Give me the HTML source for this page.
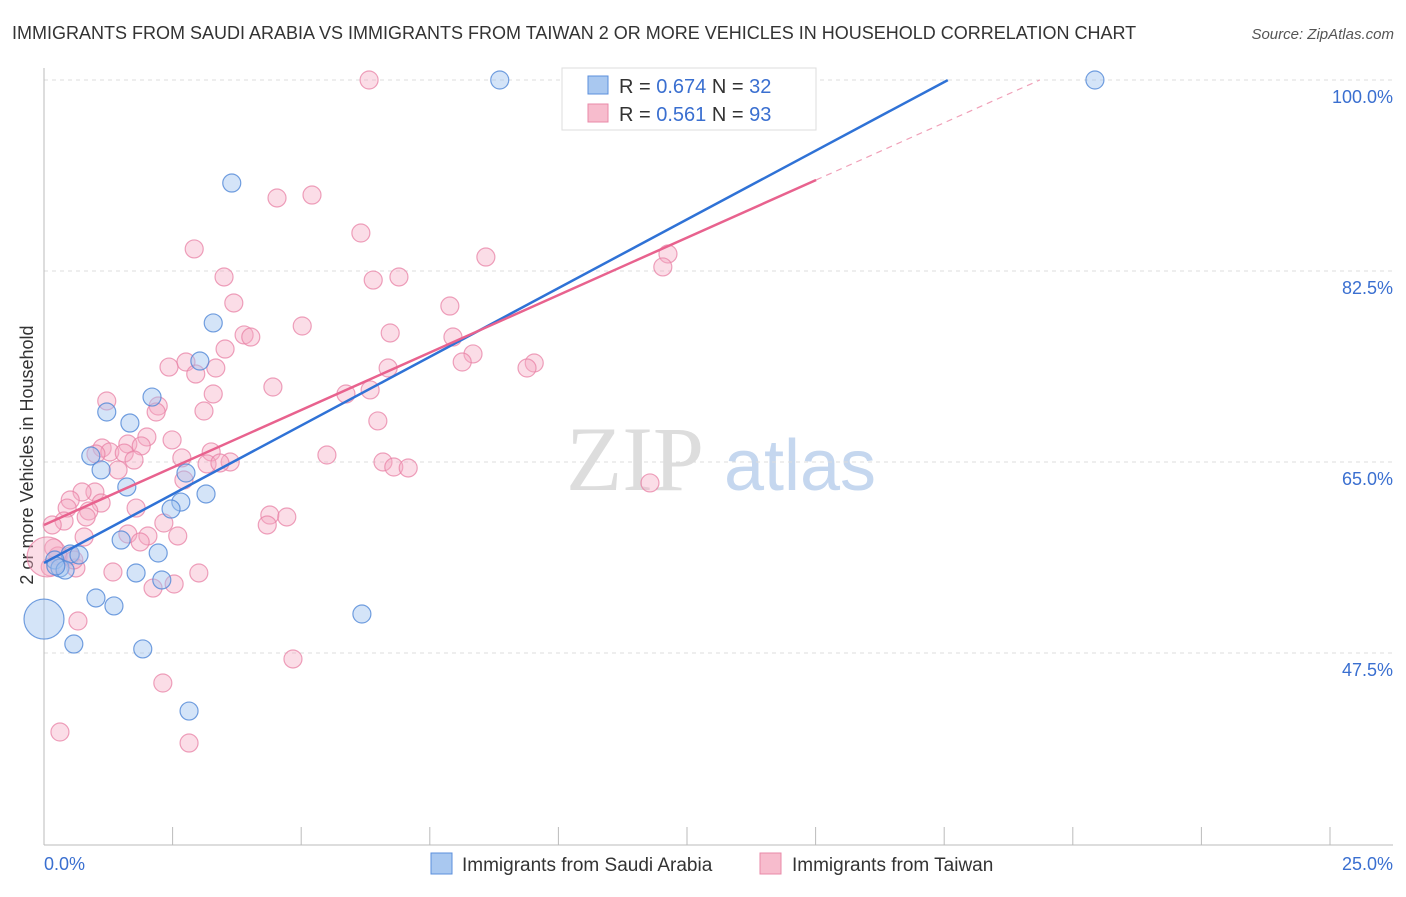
<!DOCTYPE html>
<html><head><meta charset="utf-8"><style>
body{margin:0;background:#fff;font-family:"Liberation Sans",sans-serif;}
</style></head><body>
<svg id="c" width="1406" height="892" xmlns="http://www.w3.org/2000/svg" style="font-family:'Liberation Sans',sans-serif">
<text x="12" y="39" font-size="18" fill="#333">IMMIGRANTS FROM SAUDI ARABIA VS IMMIGRANTS FROM TAIWAN 2 OR MORE VEHICLES IN HOUSEHOLD CORRELATION CHART</text>
<text x="1394" y="39" font-size="15" fill="#555" font-style="italic" text-anchor="end">Source: ZipAtlas.com</text>
<text x="33" y="455" font-size="18" fill="#333" text-anchor="middle" transform="rotate(-90 33 455)">2 or more Vehicles in Household</text>
<g><text x="635" y="490" font-size="92" fill="#ddd" text-anchor="middle" font-family="Liberation Serif">ZIP</text><text x="800" y="490" font-size="72" fill="#c5d7ef" text-anchor="middle">atlas</text></g>
<g id="grid"></g><g id="axes"></g><g id="pts"></g><g id="lines"></g>
<g>
<rect x="562" y="68" width="254" height="62" fill="#fff" stroke="#ddd"/>
<rect x="588" y="76" width="20" height="18" fill="#a9c8f0" stroke="#5b8fdc"/>
<rect x="588" y="104" width="20" height="18" fill="#f7bccd" stroke="#e88aa8"/>
<text x="619" y="93" font-size="20" fill="#333">R = <tspan fill="#3a6fd0">0.674</tspan>   N = <tspan fill="#3a6fd0">32</tspan></text>
<text x="619" y="121" font-size="20" fill="#333">R = <tspan fill="#3a6fd0"> 0.561</tspan>   N = <tspan fill="#3a6fd0">93</tspan></text>
</g>
<g>
<rect x="431" y="853" width="21" height="21" fill="#a9c8f0" stroke="#5b8fdc"/>
<text x="462" y="871" font-size="19" fill="#333">Immigrants from Saudi Arabia</text>
<rect x="760" y="853" width="21" height="21" fill="#f7bccd" stroke="#e88aa8"/>
<text x="792" y="871" font-size="19" fill="#333">Immigrants from Taiwan</text>
</g>
</svg>
<script>
const xTicks=[0,2.5,5,7.5,10,12.5,15,17.5,20,22.5,25];
const yTicks=[47.5,65,82.5,100];
const yTickLabels=["47.5%","65.0%","82.5%","100.0%"];
const blueX=[8.86,20.43,3.65,3.29,3.03,2.10,1.22,1.67,0.91,1.11,2.76,1.61,3.15,2.66,2.47,1.50,2.22,0.51,0.68,0.21,0.31,0.41,1.79,2.29,1.01,1.36,6.18,0,0.58,1.92,2.82,0.23];
const blueY=[100,100,90.56,77.74,74.25,70.95,69.58,68.57,65.55,64.27,63.99,62.71,62.07,61.33,60.69,57.85,56.66,56.57,56.48,56.02,55.29,55.1,54.83,54.19,52.54,51.81,51.07,50.61,48.32,47.87,42.18,55.47];
const blueR=[9,9,9,9,9,9,9,9,9,9,9,9,9,9,9,9,9,9,9,9,9,9,9,9,9,9,9,20,9,9,9,9];
const pinkX=[6.32,5.21,4.53,6.16,2.92,3.50,8.59,6.40,6.90,12.13,12.03,3.69,7.89,5.02,6.73,3.89,4.02,7.95,3.52,8.34,2.76,2.43,8.13,9.53,9.39,3.34,2.95,6.69,4.45,6.34,5.87,3.29,1.22,2.22,2.18,3.11,6.49,2.00,2.49,1.13,1.63,1.89,1.28,1.56,1.01,1.75,2.68,3.25,5.50,3.17,3.62,3.42,6.59,6.80,7.08,2.72,1.44,11.78,0.99,0.74,0.51,1.11,0.45,0.87,1.79,0.82,0.39,0.16,4.39,4.72,4.34,2.33,1.63,2.02,2.60,0.78,1.87,0.19,0.27,0.51,0.12,0.62,1.34,3.01,2.53,2.12,0.66,4.84,2.31,0.31,2.82,0.06,0.58];
const pinkY=[100,89.46,89.19,85.98,84.52,81.95,83.78,81.67,81.95,84.06,82.87,79.57,79.29,77.46,76.82,76.64,76.45,76.45,75.35,74.9,74.16,73.7,74.16,74.07,73.61,73.61,73.06,73.61,71.87,71.6,71.23,71.23,70.59,70.13,69.58,69.67,68.76,67.29,67.02,66.28,66.65,66.47,65.92,65.82,65.73,65.18,65.37,65.92,65.64,64.82,65.0,64.91,65.0,64.54,64.45,63.35,64.27,63.08,62.25,62.25,61.52,61.24,60.78,60.51,60.78,59.96,59.59,59.23,60.14,59.96,59.23,59.41,58.4,58.22,58.22,58.13,57.67,57.12,56.39,56.39,55.38,55.29,54.92,54.83,53.82,53.45,50.43,46.95,44.75,40.26,39.25,56.3,56.02];
const blueTrend=[55.75,2.518,0,17.57];
const pinkTrend=[59.23,2.106,0,15.01,19.36];
const NS="http://www.w3.org/2000/svg";
const sx=v=>44+v*51.44, sy=v=>80+(100-v)*10.914;
function mk(p,t,a){const e=document.createElementNS(NS,t);for(const k in a)e.setAttribute(k,a[k]);p.appendChild(e);return e;}
const grid=document.getElementById('grid'),axes=document.getElementById('axes'),pts=document.getElementById('pts'),lines=document.getElementById('lines');
yTicks.forEach((v,i)=>{const l=mk(grid,'line',{x1:44,x2:1393,y1:sy(v),y2:sy(v),stroke:'#ddd','stroke-dasharray':'4,4'});


const t=mk(axes,'text',{x:1393,y:sy(v)+23,'font-size':18,fill:'#3a6fd0','text-anchor':'end'});t.textContent=yTickLabels[i];

});
const ax=mk(axes,'line',{x1:44,x2:1393,y1:845,y2:845,stroke:'#bbb'});


const ay=mk(axes,'line',{x1:44,x2:44,y1:68,y2:845,stroke:'#bbb'});


xTicks.forEach(v=>{const l=mk(axes,'line',{x1:sx(v),x2:sx(v),y1:827,y2:845,stroke:'#bbb'});

});
const xl=mk(axes,'text',{x:44,y:870,'font-size':18,fill:'#3a6fd0'});xl.textContent='0.0%';


const xr=mk(axes,'text',{x:1393,y:870,'font-size':18,fill:'#3a6fd0','text-anchor':'end'});xr.textContent='25.0%';


pinkX.forEach((x,i)=>{const c=mk(pts,'circle',{cx:sx(x),cy:sy(pinkY[i]),r:(i==91?20:9),fill:'rgba(245,170,195,0.4)',stroke:'rgba(232,130,165,0.75)','stroke-width':1.2});

});
blueX.forEach((x,i)=>{const c=mk(pts,'circle',{cx:sx(x),cy:sy(blueY[i]),r:blueR[i],fill:'rgba(160,195,240,0.45)',stroke:'rgba(80,135,215,0.8)','stroke-width':1.2});

});
const bl=mk(lines,'line',{x1:sx(blueTrend[2]),y1:sy(blueTrend[0]+blueTrend[1]*blueTrend[2]),x2:sx(blueTrend[3]),y2:sy(blueTrend[0]+blueTrend[1]*blueTrend[3]),stroke:'#2f72d6','stroke-width':2.5});


const pl=mk(lines,'line',{x1:sx(pinkTrend[2]),y1:sy(pinkTrend[0]),x2:sx(pinkTrend[3]),y2:sy(pinkTrend[0]+pinkTrend[1]*pinkTrend[3]),stroke:'#e8628e','stroke-width':2.5});


const pd=mk(lines,'line',{x1:sx(pinkTrend[3]),y1:sy(pinkTrend[0]+pinkTrend[1]*pinkTrend[3]),x2:sx(pinkTrend[4]),y2:sy(pinkTrend[0]+pinkTrend[1]*pinkTrend[4]),stroke:'#f0a0b8','stroke-width':1.2,'stroke-dasharray':'6,5'});


</script>
</body></html>
